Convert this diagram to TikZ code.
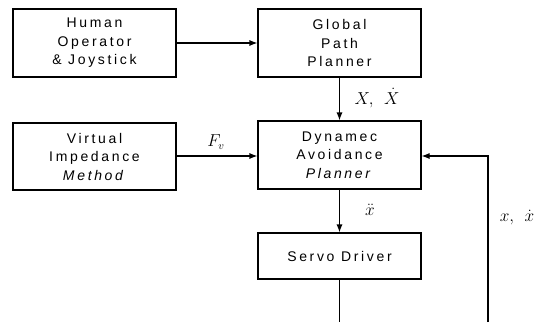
\documentclass[tikz,border=0pt]{standalone}
\usepackage{fontspec}
\setmainfont{Liberation Sans}[LetterSpace=19]
\usetikzlibrary{arrows.meta}
\begin{document}
\begin{tikzpicture}[x=1pt,y=-1pt,
  blk/.style={draw,line width=1.1pt,minimum width=163pt,inner sep=0pt,align=center,
    font=\fontsize{14}{18.5}\selectfont},
  conn/.style={line width=1.1pt,-{Latex[length=8pt,width=6pt]}},
  plain/.style={line width=1.1pt},
  lab/.style={font=\fontsize{16}{16}\selectfont,inner sep=0pt}]
\useasboundingbox (0,0) rectangle (547,322);
\node[blk,minimum height=68pt] (hum) at (94.5,43) {Human\\Operator\\\& Joystick};
\node[blk,minimum height=68pt] (gpp) at (339.5,43) {Global\\Path\\Planner};
\node[blk,minimum height=67pt] (vim) at (94.5,156.5) {Virtual\\Impedance\\\textit{Method}};
\node[blk,minimum height=68pt] (dap) at (339.5,155) {Dynamec\\Avoidance\\\textit{Planner}};
\node[blk,minimum height=46pt] (srv) at (339.5,256) {Servo Driver};
\coordinate (sb) at (339.5,322);
\coordinate (fb0) at (488,322);
\coordinate (fb1) at (488,156);
\draw[conn] (hum.east |- 0,43) -- (gpp.west |- 0,43);
\draw[conn] (gpp) -- (dap);
\draw[conn] (vim.east |- 0,156) -- (dap.west |- 0,156);
\draw[conn] (dap) -- (srv);
\draw[plain] (srv) -- (sb);
\draw[conn] (fb0) -- (fb1) -- (dap.east |- fb1);
\node[lab] (l1) at (377,98) {$X,\ \dot X$};
\node[lab] (l2) at (216,142) {$F_v$};
\node[lab] (l3) at (370,210) {$\ddot x$};
\node[lab] (l4) at (517,218) {$x,\ \dot x$};
\end{tikzpicture}
\end{document}
